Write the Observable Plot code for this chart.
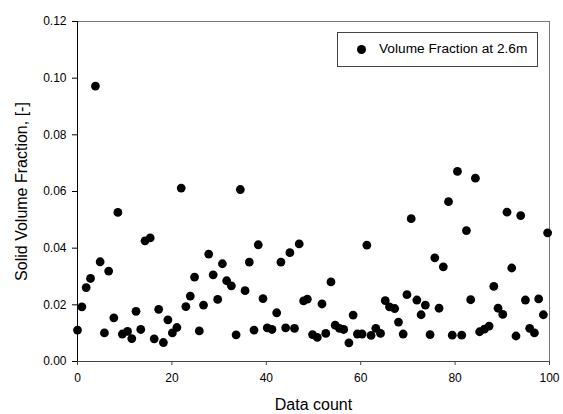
<!DOCTYPE html>
<html>
<head>
<meta charset="utf-8">
<script src="https://cdn.jsdelivr.net/npm/d3@7"></script>
<script src="https://cdn.jsdelivr.net/npm/@observablehq/plot@0.6"></script>
<style>
  body { margin: 0; background: #fff; }
  #wrap { position: relative; width: 563px; height: 414px; font-family: "Liberation Sans", Arial, sans-serif; }
  #legend { position: absolute; left: 337px; top: 32px; width: 199px; height: 33px; border: 1px solid #444; background: #fff; box-sizing: content-box; }
  #legend .dot { position: absolute; left: 19px; top: 12px; width: 9px; height: 9px; border-radius: 50%; background: #000; }
  #legend .txt { position: absolute; left: 41px; top: 8px; font-size: 13.7px; line-height: 16px; color: #000; white-space: nowrap; }
</style>
</head>
<body>
<div id="wrap"><div id="legend"><div class="dot"></div><div class="txt"></div></div></div>
<script>
const seriesName = "Volume Fraction at 2.6m";
const xLabel = "Data count";
const yLabel = "Solid Volume Fraction, [-]";
const xTicks = [0, 20, 40, 60, 80, 100];
const yTicks = [0, 0.02, 0.04, 0.06, 0.08, 0.10, 0.12];
const dataCount = [
  0, 0.93, 1.84, 2.76, 3.8, 4.8, 5.7, 6.6, 7.7, 8.55,
  9.5, 10.6, 11.5, 12.4, 13.4, 14.3, 15.4, 16.25, 17.2, 18.2,
  19.15, 20.1, 21.06, 21.97, 22.96, 23.9, 24.8, 25.8, 26.7, 27.8,
  28.75, 29.7, 30.7, 31.6, 32.6, 33.6, 34.5, 35.5, 36.4, 37.4,
  38.3, 39.3, 40.2, 41.2, 42.2, 43.1, 44.1, 45.0, 45.97, 46.97,
  47.9, 48.7, 49.8, 50.8, 51.8, 52.6, 53.7, 54.6, 55.5, 56.4,
  57.5, 58.4, 59.3, 60.3, 61.3, 62.2, 63.2, 64.2, 65.2, 66.1,
  67.2, 68.0, 69.0, 69.8, 70.7, 71.9, 72.8, 73.7, 74.7, 75.7,
  76.6, 77.5, 78.6, 79.4, 80.5, 81.4, 82.4, 83.3, 84.3, 85.2,
  86.2, 87.2, 88.2, 89.1, 90.1, 91.0, 92.0, 92.9, 93.9, 94.9,
  95.8, 96.8, 97.7, 98.7, 99.6
];
const volumeFraction = [
  0.0111, 0.0193, 0.0261, 0.0293, 0.0972, 0.0352, 0.0101, 0.0319, 0.0154, 0.0526,
  0.0097, 0.0106, 0.0081, 0.0177, 0.0113, 0.0426, 0.0436, 0.0080, 0.0184, 0.0067,
  0.0147, 0.0101, 0.0120, 0.0612, 0.0194, 0.0231, 0.0298, 0.0108, 0.0199, 0.0379,
  0.0306, 0.0219, 0.0345, 0.0285, 0.0267, 0.0094, 0.0607, 0.0250, 0.0351, 0.0111,
  0.0412, 0.0222, 0.0119, 0.0113, 0.0172, 0.0351, 0.0119, 0.0384, 0.0117, 0.0415,
  0.0214, 0.0220, 0.0095, 0.0085, 0.0203, 0.0099, 0.0281, 0.0128, 0.0117, 0.0113,
  0.0066, 0.0164, 0.0097, 0.0097, 0.0411, 0.0092, 0.0117, 0.0099, 0.0215, 0.0193,
  0.0187, 0.0139, 0.0097, 0.0236, 0.0504, 0.0217, 0.0165, 0.0199, 0.0095, 0.0366,
  0.0188, 0.0334, 0.0564, 0.0093, 0.0671, 0.0093, 0.0462, 0.0218, 0.0647, 0.0105,
  0.0114, 0.0125, 0.0265, 0.0188, 0.0166, 0.0527, 0.0330, 0.0090, 0.0515, 0.0217,
  0.0117, 0.0101, 0.0221, 0.0165, 0.0454
];
const data = dataCount.map((x, i) => ({x, y: volumeFraction[i]}));
const xDomain = [xTicks[0], xTicks[xTicks.length - 1]];
const yDomain = [yTicks[0], yTicks[yTicks.length - 1]];

const chart = Plot.plot({
  width: 563,
  height: 414,
  marginLeft: 77,
  marginRight: 14,
  marginTop: 21,
  marginBottom: 53,
  style: {fontFamily: '"Liberation Sans", Arial, sans-serif', fontSize: "12px", color: "#000", background: "transparent"},
  x: {domain: xDomain},
  y: {domain: yDomain},
  marks: [
    Plot.ruleY([yDomain[1]], {stroke: "#777", strokeWidth: 1}),
    Plot.ruleX([xDomain[1]], {stroke: "#777", strokeWidth: 1}),
    Plot.ruleY([yDomain[0]], {stroke: "#444", strokeWidth: 1}),
    Plot.ruleX([xDomain[0]], {stroke: "#000", strokeWidth: 1}),
    Plot.axisX({ticks: xTicks, tickSize: 4, tickPadding: 8, label: xLabel, labelAnchor: "center", labelArrow: "none", labelOffset: 48, stroke: "#444"}),
    Plot.axisY({ticks: yTicks, tickSize: 5, tickPadding: 6, tickFormat: d3.format(".2f"), label: yLabel, labelAnchor: "center", labelArrow: "none", labelOffset: 62, stroke: "#000"}),
    Plot.dot(data, {x: "x", y: "y", r: 4.4, fill: "#000", stroke: "none"})
  ]
});
const xl = chart.querySelector('[aria-label="x-axis label"]');
if (xl) xl.setAttribute("font-size", "16");
const yl = chart.querySelector('[aria-label="y-axis label"]');
if (yl) yl.setAttribute("font-size", "16");
const wrap = document.getElementById("wrap");
wrap.insertBefore(chart, wrap.firstChild);
chart.style.position = "absolute";
chart.style.left = "0";
chart.style.top = "0";
document.querySelector("#legend .txt").textContent = seriesName;
</script>
</body>
</html>
